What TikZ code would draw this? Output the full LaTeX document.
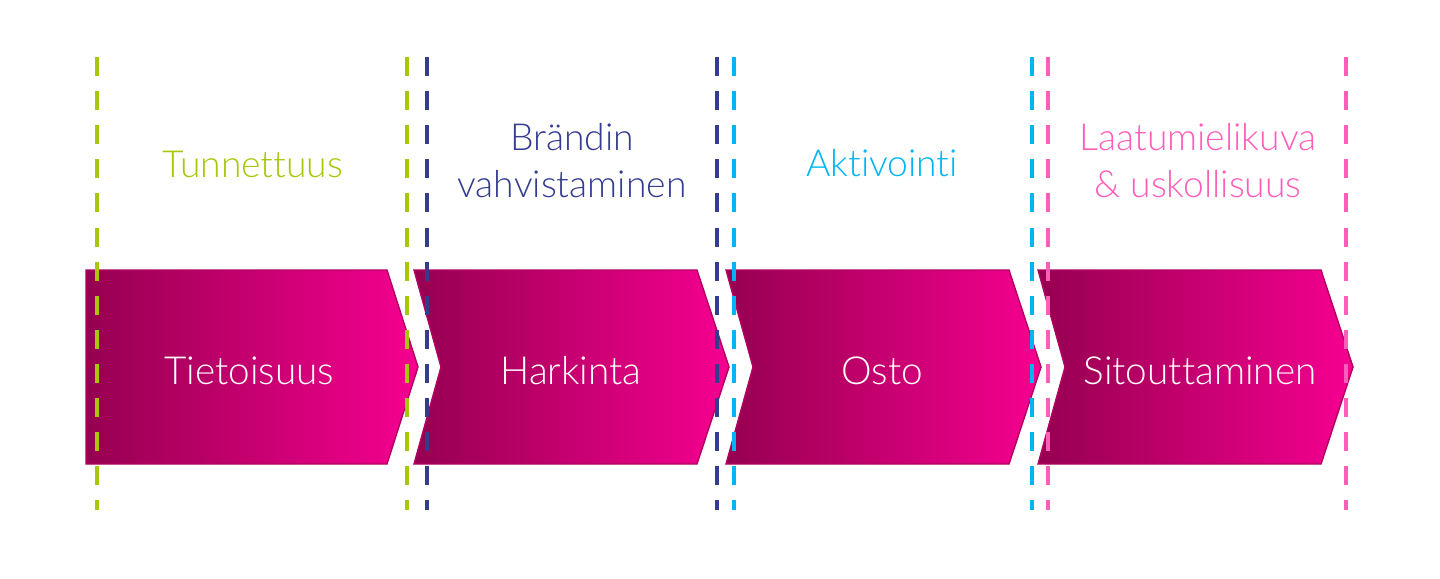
\documentclass[tikz,border=0pt]{standalone}
\usepackage{fontspec}
\setmainfont{Lato Light}[Ligatures={NoCommon,NoContextual}]
\usetikzlibrary{calc}

\definecolor{vihrea}{RGB}{168,199,10}
\definecolor{sininen}{RGB}{52,60,143}
\definecolor{syaani}{RGB}{0,181,241}
\definecolor{roosa}{RGB}{255,93,186}
\definecolor{tumma}{RGB}{150,0,80}
\definecolor{kirkas}{RGB}{246,0,144}

\tikzset{
  raja/.style={line width=1.3pt, dash pattern=on 5.4pt off 4.3pt},
  vaihe/.style={draw=tumma!70!kirkas, line width=0.4pt, left color=tumma, right color=kirkas},
  otsikko/.style={font=\fontsize{10.6}{13.4}\selectfont, align=center},
  teksti/.style={font=\fontsize{11}{13}\selectfont, text=white}
}

\begin{document}
\begin{tikzpicture}[x=0.01cm,y=-0.01cm]
  %\draw[help lines,step=100] (0,0) grid (1440,578);
  \useasboundingbox (0,0) rectangle (1440,578);
  % nuolet
  \path[vaihe] (86,270) -- (387,270) -- (418,367) -- (387,464) -- (86,464) -- cycle;
  \foreach \s in {414,726,1038}
    \path[vaihe] (\s,270) -- ({\s+283},270) -- ({\s+315},367) -- ({\s+283},464) -- (\s,464) -- ({\s+27},367) -- cycle;
  \node[teksti] (tieto) at (249,371) {Tietoisuus};
  \node[teksti] (harkinta) at (571,371) {Harkinta};
  \node[teksti] (osto) at (882,371) {Osto};
  \node[teksti] (sitout) at (1200,371) {Sitouttaminen};
  % otsikot
  \node[otsikko, text=vihrea] (tunnet) at (253,164) {Tunnettuus};
  \node[otsikko, text=sininen] (brandi) at (572,161) {Brändin\\vahvistaminen};
  \node[otsikko, text=syaani] (aktiv) at (882,163) {Aktivointi};
  \node[otsikko, text=roosa] (laatu) at (1198,161) {Laatumielikuva\\\& uskollisuus};
  % katkoviivat
  \foreach \x/\c in {97/vihrea,407/vihrea,427/sininen,717/sininen,734/syaani,1032/syaani,1048/roosa,1346/roosa}
    \draw[raja,\c] (\x,57) -- (\x,510);
\end{tikzpicture}
\end{document}
